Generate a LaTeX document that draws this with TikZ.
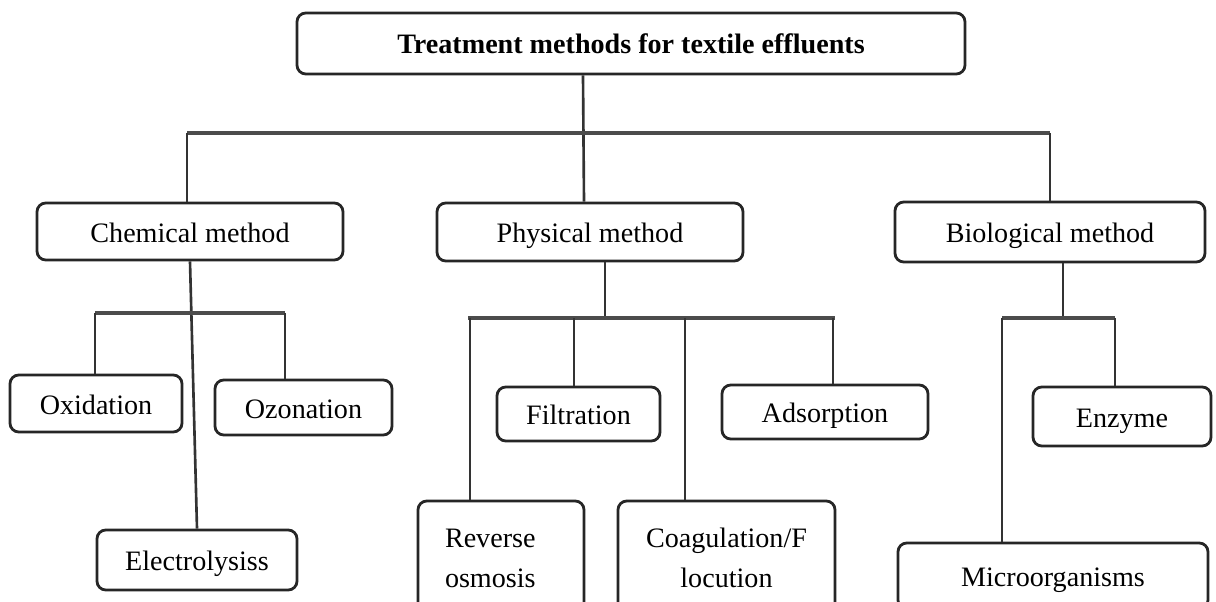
\documentclass[tikz,border=0pt]{standalone}
\usepackage{fontspec}
\setmainfont{Liberation Serif}

\tikzset{box/.style={draw=black!85,rounded corners=5pt,line width=1.6pt,inner sep=0pt,align=center,font=\fontsize{16}{22.7}\selectfont}}
\tikzset{onebox/.style={box,text height=15.5pt,text depth=3pt}}
\tikzset{link/.style={draw=black!80,line width=1.5pt}}
\tikzset{bar/.style={draw=black!70,line width=2.8pt}}

\begin{document}
\begin{tikzpicture}
        \useasboundingbox (0,0) rectangle (24.32,-12.04);
        \clip (0,0) rectangle (24.32,-12.04);
        % draw the boxes
        \node[box,minimum width=13.36cm,minimum height=1.22cm,font=\fontsize{16}{19}\selectfont\bfseries] (top) at (12.62,-0.87) {Treatment methods for textile effluents};
        \node[onebox,minimum width=6.12cm,minimum height=1.14cm] (chem) at (3.80,-4.63) {Chemical method};
        \node[onebox,minimum width=6.12cm,minimum height=1.16cm] (phys) at (11.80,-4.64) {Physical method};
        \node[onebox,minimum width=6.20cm,minimum height=1.20cm] (bio) at (21.00,-4.64) {Biological method};

        \node[onebox,minimum width=3.44cm,minimum height=1.14cm] (oxid) at (1.92,-8.07) {Oxidation};
        \node[onebox,minimum width=3.54cm,minimum height=1.10cm] (ozon) at (6.07,-8.15) {Ozonation};
        \node[onebox,minimum width=4.00cm,minimum height=1.20cm] (elec) at (3.94,-11.20) {Electrolysiss};

        \node[onebox,minimum width=3.26cm,minimum height=1.08cm] (filt) at (11.57,-8.28) {Filtration};
        \node[onebox,minimum width=4.12cm,minimum height=1.08cm] (ads) at (16.50,-8.24) {Adsorption};
        \node[box,text width=2.24cm,inner xsep=0.54cm,align=left,minimum height=2.28cm] (rev) at (10.02,-11.16) {Reverse\\osmosis};
        \node[box,minimum width=4.34cm,minimum height=2.28cm] (coag) at (14.53,-11.16) {Coagulation/F\\locution};

        \node[onebox,minimum width=3.56cm,minimum height=1.18cm] (enz) at (22.44,-8.33) {Enzyme};
        \node[onebox,minimum width=6.20cm,minimum height=1.32cm] (micro) at (21.06,-11.52) {Microorganisms};

        % main level
        \coordinate (mainL) at (3.74,-2.66);
        \coordinate (mainR) at (21.00,-2.66);
        \draw[link] ([xshift=-0.96cm]top.south) -- ([xshift=-0.12cm]phys.north);
        \draw[bar] (mainL) -- (mainR);
        \draw[link] (mainL) -- (mainL |- chem.north);
        \draw[link] (mainR) -- (bio.north);

        % chemical branch
        \coordinate (chemL) at (1.90,-6.26);
        \coordinate (chemR) at (5.70,-6.26);
        \draw[link] (chem.south) -- (elec.north);
        \draw[bar] (chemL) -- (chemR);
        \draw[link] (chemL) -- (chemL |- oxid.north);
        \draw[link] (chemR) -- (chemR |- ozon.north);

        % physical branch
        \coordinate (physT) at (12.10,-6.36);
        \draw[link] (physT |- phys.south) -- (physT);
        \draw[bar] (9.36,-6.36) -- (16.70,-6.36);
        \foreach \x/\n in {9.40/rev,11.48/filt,13.70/coag,16.66/ads}{
            \coordinate (foot) at (\x,-6.36);
            \draw[link] (foot) -- (foot |- \n.north);
        }

        % biological branch
        \coordinate (bioT) at (21.26,-6.36);
        \coordinate (bioL) at (20.04,-6.36);
        \coordinate (bioR) at (22.30,-6.36);
        \draw[link] (bioT |- bio.south) -- (bioT);
        \draw[bar] (bioL) -- (bioR);
        \draw[link] (bioL) -- (bioL |- micro.north);
        \draw[link] (bioR) -- (bioR |- enz.north);
    \end{tikzpicture}
\end{document}
